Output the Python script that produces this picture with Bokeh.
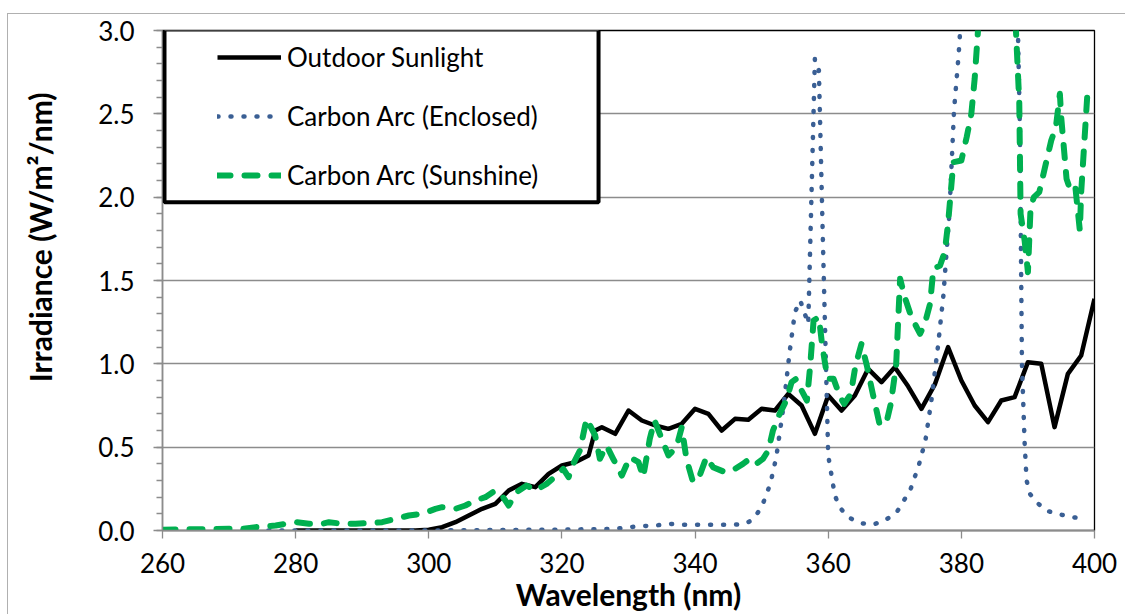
from bokeh.plotting import figure
from bokeh.models import (Range1d, FixedTicker, PrintfTickFormatter, Legend, LegendItem,
                          BoxAnnotation, Title, ColumnDataSource)
from bokeh.embed import file_html
from bokeh.resources import INLINE

# ---------------- data ----------------
x_ticks = [260, 280, 300, 320, 340, 360, 380, 400]
y_ticks = [0.0, 0.5, 1.0, 1.5, 2.0, 2.5, 3.0]

sun_wl = [280, 282, 284, 286, 288, 290, 292, 294, 296, 298, 300, 302, 304, 306, 308, 310,
          312, 314, 316, 318, 320, 322, 324, 325, 326, 328, 330, 332, 334, 336, 338, 340,
          342, 344, 346, 348, 350, 352, 354, 356, 358, 360, 362, 364, 366, 368, 370, 372,
          374, 376, 378, 380, 382, 384, 386, 388, 390, 392, 394, 396, 398, 400]
sun_val = [0, 0, 0, 0, 0, 0, 0, 0, 0, 0, 0.005, 0.02, 0.05, 0.09, 0.13, 0.16,
           0.24, 0.28, 0.26, 0.34, 0.39, 0.41, 0.45, 0.60, 0.62, 0.58, 0.72, 0.66, 0.63, 0.61, 0.64, 0.73,
           0.70, 0.60, 0.67, 0.665, 0.73, 0.72, 0.82, 0.75, 0.58, 0.81, 0.72, 0.81, 0.97, 0.89, 0.98, 0.865,
           0.73, 0.875, 1.10, 0.90, 0.75, 0.65, 0.78, 0.80, 1.01, 1.00, 0.62, 0.94, 1.05, 1.39]

enc_wl = [272, 290, 300, 310, 320, 328, 330, 332, 334, 336,
          338, 340, 342, 344, 346, 347.5, 348.7, 350, 351.3, 352.2,
          353.3, 354.2, 355, 355.8, 357, 358, 358.6, 359.2, 360, 361,
          361.7, 363, 364.7, 366.7, 368.5, 370.3, 371.2, 372.3, 373.6, 374.6,
          375.5, 376.5, 377.3, 378.2, 378.9, 379.6, 380.3, 381.5, 387.5, 388.5,
          388.8, 389.1, 389.5, 389.8, 390.3, 391.3, 392.7, 394.4, 396.3, 398.3]
enc_val = [0, 0, 0, 0.003, 0.005, 0.01, 0.02, 0.026, 0.03, 0.04,
           0.035, 0.035, 0.035, 0.035, 0.035, 0.04, 0.066, 0.14, 0.28, 0.44,
           0.75, 1.07, 1.31, 1.38, 1.24, 2.83, 2.76, 1.74, 0.45, 0.21,
           0.14, 0.08, 0.045, 0.035, 0.06, 0.11, 0.17, 0.24, 0.39, 0.54,
           0.78, 1.11, 1.41, 1.90, 2.52, 2.86, 3.3, 4.0, 4.0, 3.0,
           2.4, 1.0, 0.53, 0.30, 0.22, 0.17, 0.12, 0.10, 0.083, 0.07]

shine_wl = [260, 270, 272, 274, 277, 280, 282, 284, 285, 287,
            289, 291, 293, 294.5, 297, 299, 301, 302, 304, 305.5,
            307, 308.5, 310, 311, 312, 313.2, 314.7, 316, 317.7, 319.2,
            320.2, 321, 321.7, 322.7, 323.7, 325, 325.7, 326.7, 327.7, 329,
            330.2, 331.5, 332.2, 333.2, 333.9, 335, 336, 337.2, 338, 338.7,
            339.7, 340.7, 341.7, 342.7, 344.5, 346, 347.2, 348.2, 349.2, 350.2,
            351, 351.7, 352.7, 353.7, 354.5, 355.2, 356, 356.8, 357.3, 357.8,
            358.6, 359.1, 359.9, 360.8, 361.8, 362.4, 363.4, 364.1, 365, 365.8,
            366.7, 367.7, 368.7, 369.4, 370.2, 370.8, 371.5, 372.5, 373.8, 374.5,
            375.3, 375.8, 376.8, 377.5, 378, 378.8, 380, 380.8, 381.5, 382,
            382.5, 383.5, 387.5, 388.2, 388.7, 388.9, 389.5, 390, 390.4, 390.9,
            391.7, 393.5, 394.2, 394.8, 395, 395.8, 396.3, 397.1, 397.8, 398,
            398.9]
shine_val = [0.005, 0.01, 0.01, 0.02, 0.03, 0.05, 0.04, 0.04, 0.05, 0.04,
             0.04, 0.045, 0.05, 0.065, 0.09, 0.10, 0.13, 0.14, 0.13, 0.15,
             0.18, 0.20, 0.24, 0.21, 0.15, 0.23, 0.27, 0.24, 0.28, 0.33,
             0.37, 0.32, 0.40, 0.48, 0.67, 0.57, 0.43, 0.51, 0.43, 0.33,
             0.44, 0.41, 0.32, 0.55, 0.66, 0.55, 0.45, 0.50, 0.62, 0.43,
             0.29, 0.33, 0.44, 0.38, 0.35, 0.37, 0.40, 0.43, 0.40, 0.43,
             0.48, 0.60, 0.70, 0.78, 0.89, 0.91, 0.84, 0.78, 0.99, 1.26,
             1.28, 1.11, 0.91, 0.91, 0.80, 0.76, 0.82, 0.99, 1.12, 0.99,
             0.82, 0.64, 0.64, 0.76, 0.99, 1.51, 1.40, 1.28, 1.18, 1.24,
             1.36, 1.57, 1.59, 1.67, 1.84, 2.21, 2.22, 2.36, 2.50, 2.71,
             3.0, 3.5, 3.5, 3.0, 2.57, 1.90, 1.74, 1.55, 1.94, 2.00,
             2.03, 2.34, 2.42, 2.62, 2.48, 2.11, 2.05, 2.07, 1.80, 2.03,
             2.60]

series_names = ["Outdoor Sunlight", "Carbon Arc (Enclosed)", "Carbon Arc (Sunshine)"]

FONT = "Lato"
GRAY = "#8c8c8c"

p = figure(width=1117, height=600, output_backend="svg", toolbar_location=None,
           x_range=Range1d(260, 400), y_range=Range1d(0, 3.0),
           min_border_left=154, min_border_right=31, min_border_top=16, min_border_bottom=84)
p.styles = {"margin-top": "14px", "margin-left": "8px", "outline": "1px solid #b0b0b0"}
p.background_fill_color = "white"
p.border_fill_color = "white"
p.outline_line_color = "black"
p.outline_line_width = 1.3

# grid
p.xgrid.grid_line_color = None
p.ygrid.grid_line_color = GRAY
p.ygrid.grid_line_width = 1.3
p.ygrid.ticker = FixedTicker(ticks=y_ticks)

# x axis
p.xaxis.ticker = FixedTicker(ticks=x_ticks)
p.xaxis.axis_line_color = GRAY
p.xaxis.axis_line_width = 1.3
p.xaxis.major_tick_line_color = GRAY
p.xaxis.major_tick_line_width = 1.3
p.xaxis.major_tick_in = 0
p.xaxis.major_tick_out = 8
p.xaxis.minor_tick_line_color = None
p.xaxis.major_label_text_font = FONT
p.xaxis.major_label_text_font_size = "26px"
p.xaxis.major_label_text_color = "black"
p.xaxis.major_label_standoff = 14
p.xaxis.axis_label = "Wavelength (nm)"
p.xaxis.axis_label_text_font = FONT
p.xaxis.axis_label_text_font_size = "30px"
p.xaxis.axis_label_text_font_style = "bold"
p.xaxis.axis_label_text_color = "black"
p.xaxis.axis_label_standoff = 0

# y axis
minor = [round(i * 0.1, 1) for i in range(31)]
p.yaxis.ticker = FixedTicker(ticks=y_ticks, minor_ticks=minor)
p.yaxis.formatter = PrintfTickFormatter(format="%.1f")
p.yaxis.axis_line_color = GRAY
p.yaxis.axis_line_width = 1.3
p.yaxis.major_tick_line_color = GRAY
p.yaxis.major_tick_line_width = 1.3
p.yaxis.minor_tick_line_color = GRAY
p.yaxis.minor_tick_line_width = 1.3
p.yaxis.major_tick_in = 0
p.yaxis.major_tick_out = 9
p.yaxis.minor_tick_in = 0
p.yaxis.minor_tick_out = 6
p.yaxis.major_label_text_font = FONT
p.yaxis.major_label_text_font_size = "26px"
p.yaxis.major_label_text_color = "black"
p.yaxis.major_label_standoff = 19

# spacer panel between tick labels and the y title
spacer = Title(text=" ", text_font=FONT, text_font_size="12px", standoff=16)
p.add_layout(spacer, "left")

ytitle = Title(text="Irradiance (W/m\u00b2/nm)", align="right", offset=62,
               text_font=FONT, text_font_size="30px", text_font_style="bold",
               text_color="black", standoff=10)
p.add_layout(ytitle, "left")

# series
src_sun = ColumnDataSource(dict(x=sun_wl, y=sun_val))
src_enc = ColumnDataSource(dict(x=enc_wl, y=enc_val))
src_shine = ColumnDataSource(dict(x=shine_wl, y=shine_val))

r_sun = p.line("x", "y", source=src_sun, line_color="black", line_width=4.5,
               line_join="round")
r_enc = p.line("x", "y", source=src_enc, line_color="#3A5F94", line_width=4.5,
               line_dash="1 12", line_cap="round", line_join="round")
r_shine = p.line("x", "y", source=src_shine, line_color="#00B050", line_width=6,
                 line_dash="13 14", line_cap="round", line_join="round")

# legend box (white, thick black border)
box = BoxAnnotation(left=260.3, right=325.5, bottom=1.97, top=3.006,
                    fill_color="white", fill_alpha=1.0,
                    line_color="black", line_alpha=1.0, line_width=4)
p.add_layout(box)

legend = Legend(items=[LegendItem(label=series_names[0], renderers=[r_sun]),
                       LegendItem(label=series_names[1], renderers=[r_enc]),
                       LegendItem(label=series_names[2], renderers=[r_shine])],
                location=(55, 335), orientation="vertical",
                padding=0, margin=0, spacing=19,
                label_height=40, glyph_height=40, glyph_width=64, label_standoff=6,
                label_text_font=FONT, label_text_font_size="26px", label_text_color="black",
                border_line_alpha=0, background_fill_alpha=0)
p.add_layout(legend)

open("out.html", "w").write(file_html(p, INLINE))
